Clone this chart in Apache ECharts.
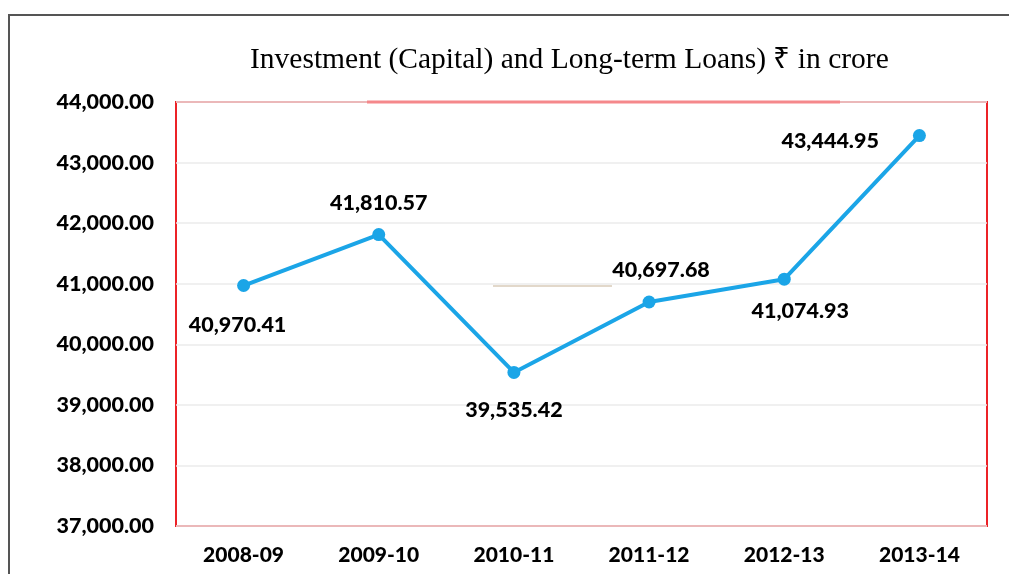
<!DOCTYPE html>
<html>
<head>
<meta charset="utf-8">
<script src="https://cdn.jsdelivr.net/npm/echarts@6/dist/echarts.min.js"></script>
<style>
  html, body { margin: 0; padding: 0; background: #fff; }
  #chart { width: 1009px; height: 574px; }
</style>
</head>
<body>
<div id="chart"></div>
<script>
const years = ['2008-09', '2009-10', '2010-11', '2011-12', '2012-13', '2013-14'];
const amounts = [40970.41, 41810.57, 39535.42, 40697.68, 41074.93, 43444.95];
const labelPositions = ['bottom', 'top', 'bottom', 'top', 'bottom', 'left'];

const fmt = (v) => Number(v).toLocaleString('en-US', { minimumFractionDigits: 2, maximumFractionDigits: 2 });
const boldFont = 'Lato, "Open Sans", sans-serif';

const myChart = echarts.init(document.getElementById('chart'));

// label tweaks per point
const labelDist = [22, 14, 20, 14, 14, 34];
const labelOff = [[-6, 0], [0, 0], [0, 0], [12, 0], [16, 0], [0, 5]];

const points = amounts.map((v, i) => ({
  value: v,
  label: {
    position: labelPositions[i],
    distance: labelDist[i],
    offset: labelOff[i],
  },
}));

const options = {
  backgroundColor: '#fff',
  animation: false,
  title: {
    text: 'Investment (Capital) and Long-term Loans) \u20B9 in crore',
    left: 245,
    top: 40,
    textStyle: {
      fontFamily: '"Liberation Serif", "Times New Roman", serif',
      fontWeight: 'normal',
      fontSize: 29.5,
      color: '#000',
    },
  },
  grid: {
    left: 176,
    right: 22,
    top: 102,
    bottom: 48,
    show: true,
    borderColor: '#EC2227',
    borderWidth: 2,
  },
  xAxis: {
    type: 'category',
    data: years,
    boundaryGap: true,
    axisLine: { show: false },
    axisTick: { show: false },
    axisLabel: {
      margin: 19,
      color: '#000',
      fontFamily: boldFont,
      fontWeight: 900,
      fontSize: 21,
    },
  },
  yAxis: {
    type: 'value',
    min: 37000,
    max: 44000,
    interval: 1000,
    axisLine: { show: false },
    axisTick: { show: false },
    axisLabel: {
      margin: 22,
      color: '#000',
      fontFamily: boldFont,
      fontWeight: 900,
      fontSize: 21.5,
      formatter: (v) => fmt(v),
    },
    splitLine: {
      lineStyle: { color: '#EBEBEB', width: 1.5 },
    },
  },
  series: [
    {
      type: 'line',
      data: points,
      symbol: 'circle',
      symbolSize: 13,
      lineStyle: { color: '#1BA5E7', width: 4 },
      itemStyle: { color: '#1BA5E7' },
      label: {
        show: true,
        color: '#000',
        fontFamily: boldFont,
        fontWeight: 900,
        fontSize: 21.5,
        formatter: (p) => fmt(p.value),
      },
    },
  ],
  graphic: [
    {
      type: 'rect',
      shape: { x: 9, y: 15, width: 1100, height: 700 },
      style: { fill: 'none', stroke: '#555', lineWidth: 2 },
      silent: true,
    },
    {
      type: 'line',
      shape: { x1: 367, y1: 102, x2: 840, y2: 102 },
      style: { stroke: '#F5888B', lineWidth: 3 },
      silent: true,
      z: 10,
    },
    {
      type: 'line',
      shape: { x1: 493, y1: 286, x2: 612, y2: 286 },
      style: { stroke: '#D8CBB8', lineWidth: 1.5 },
      silent: true,
    },
  ],
};

myChart.setOption(options);
</script>
</body>
</html>
